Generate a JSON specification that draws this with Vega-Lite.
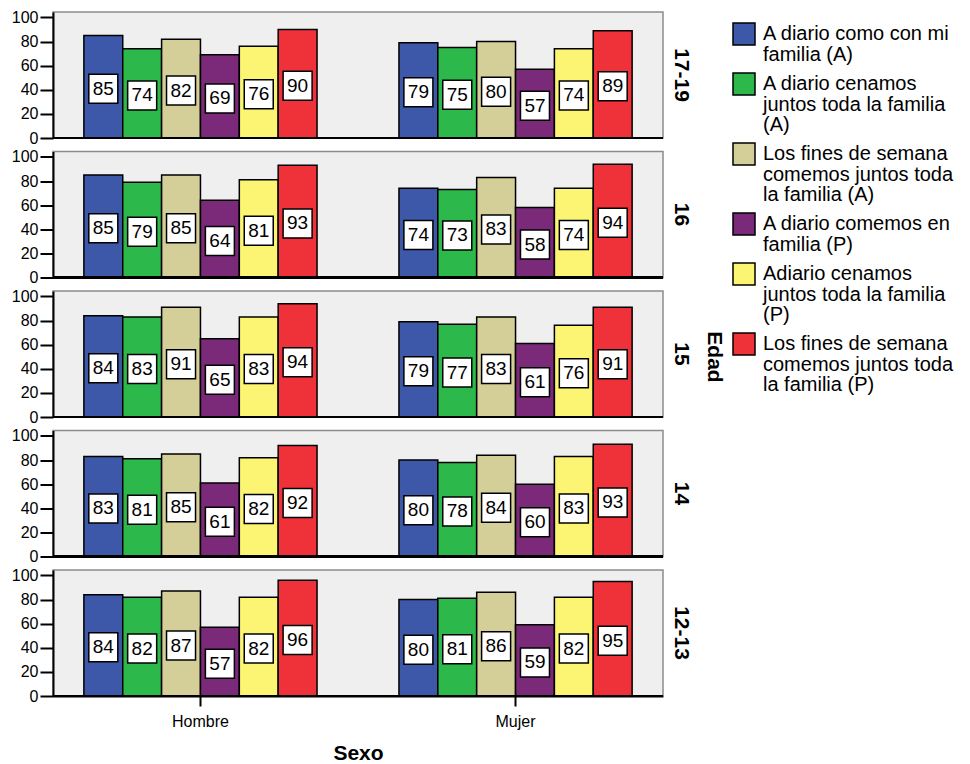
{
  "$schema": "https://vega.github.io/schema/vega-lite/v6.json",
  "padding": {"left": 10, "top": 8, "right": 5, "bottom": 0},
  "config": {
    "font": "Liberation Sans",
    "view": {"fill": "#efefef", "stroke": "#8c8c8c", "strokeWidth": 1.5},
    "axis": {"grid": false, "labelColor": "black", "titleColor": "black", "domainColor": "black", "tickColor": "black", "domainWidth": 2, "tickWidth": 2},
    "axisY": {"labelFontSize": 16, "tickSize": 13, "labelPadding": 2},
    "axisX": {"labelFontSize": 16, "tickSize": 10, "labelPadding": 7, "labelAngle": 0, "titleFontSize": 21, "titleFontWeight": "bold", "titlePadding": 13}
  },
  "data": {"values": [
    {"edad": "17-19", "sexo": "Hombre", "s": "A diario como con mi familia (A)", "v": 85},
    {"edad": "17-19", "sexo": "Hombre", "s": "A diario cenamos juntos toda la familia (A)", "v": 74},
    {"edad": "17-19", "sexo": "Hombre", "s": "Los fines de semana comemos juntos toda la familia (A)", "v": 82},
    {"edad": "17-19", "sexo": "Hombre", "s": "A diario comemos en familia (P)", "v": 69},
    {"edad": "17-19", "sexo": "Hombre", "s": "Adiario cenamos juntos toda la familia (P)", "v": 76},
    {"edad": "17-19", "sexo": "Hombre", "s": "Los fines de semana comemos juntos toda la familia (P)", "v": 90},
    {"edad": "17-19", "sexo": "Mujer", "s": "A diario como con mi familia (A)", "v": 79},
    {"edad": "17-19", "sexo": "Mujer", "s": "A diario cenamos juntos toda la familia (A)", "v": 75},
    {"edad": "17-19", "sexo": "Mujer", "s": "Los fines de semana comemos juntos toda la familia (A)", "v": 80},
    {"edad": "17-19", "sexo": "Mujer", "s": "A diario comemos en familia (P)", "v": 57},
    {"edad": "17-19", "sexo": "Mujer", "s": "Adiario cenamos juntos toda la familia (P)", "v": 74},
    {"edad": "17-19", "sexo": "Mujer", "s": "Los fines de semana comemos juntos toda la familia (P)", "v": 89},
    {"edad": "16", "sexo": "Hombre", "s": "A diario como con mi familia (A)", "v": 85},
    {"edad": "16", "sexo": "Hombre", "s": "A diario cenamos juntos toda la familia (A)", "v": 79},
    {"edad": "16", "sexo": "Hombre", "s": "Los fines de semana comemos juntos toda la familia (A)", "v": 85},
    {"edad": "16", "sexo": "Hombre", "s": "A diario comemos en familia (P)", "v": 64},
    {"edad": "16", "sexo": "Hombre", "s": "Adiario cenamos juntos toda la familia (P)", "v": 81},
    {"edad": "16", "sexo": "Hombre", "s": "Los fines de semana comemos juntos toda la familia (P)", "v": 93},
    {"edad": "16", "sexo": "Mujer", "s": "A diario como con mi familia (A)", "v": 74},
    {"edad": "16", "sexo": "Mujer", "s": "A diario cenamos juntos toda la familia (A)", "v": 73},
    {"edad": "16", "sexo": "Mujer", "s": "Los fines de semana comemos juntos toda la familia (A)", "v": 83},
    {"edad": "16", "sexo": "Mujer", "s": "A diario comemos en familia (P)", "v": 58},
    {"edad": "16", "sexo": "Mujer", "s": "Adiario cenamos juntos toda la familia (P)", "v": 74},
    {"edad": "16", "sexo": "Mujer", "s": "Los fines de semana comemos juntos toda la familia (P)", "v": 94},
    {"edad": "15", "sexo": "Hombre", "s": "A diario como con mi familia (A)", "v": 84},
    {"edad": "15", "sexo": "Hombre", "s": "A diario cenamos juntos toda la familia (A)", "v": 83},
    {"edad": "15", "sexo": "Hombre", "s": "Los fines de semana comemos juntos toda la familia (A)", "v": 91},
    {"edad": "15", "sexo": "Hombre", "s": "A diario comemos en familia (P)", "v": 65},
    {"edad": "15", "sexo": "Hombre", "s": "Adiario cenamos juntos toda la familia (P)", "v": 83},
    {"edad": "15", "sexo": "Hombre", "s": "Los fines de semana comemos juntos toda la familia (P)", "v": 94},
    {"edad": "15", "sexo": "Mujer", "s": "A diario como con mi familia (A)", "v": 79},
    {"edad": "15", "sexo": "Mujer", "s": "A diario cenamos juntos toda la familia (A)", "v": 77},
    {"edad": "15", "sexo": "Mujer", "s": "Los fines de semana comemos juntos toda la familia (A)", "v": 83},
    {"edad": "15", "sexo": "Mujer", "s": "A diario comemos en familia (P)", "v": 61},
    {"edad": "15", "sexo": "Mujer", "s": "Adiario cenamos juntos toda la familia (P)", "v": 76},
    {"edad": "15", "sexo": "Mujer", "s": "Los fines de semana comemos juntos toda la familia (P)", "v": 91},
    {"edad": "14", "sexo": "Hombre", "s": "A diario como con mi familia (A)", "v": 83},
    {"edad": "14", "sexo": "Hombre", "s": "A diario cenamos juntos toda la familia (A)", "v": 81},
    {"edad": "14", "sexo": "Hombre", "s": "Los fines de semana comemos juntos toda la familia (A)", "v": 85},
    {"edad": "14", "sexo": "Hombre", "s": "A diario comemos en familia (P)", "v": 61},
    {"edad": "14", "sexo": "Hombre", "s": "Adiario cenamos juntos toda la familia (P)", "v": 82},
    {"edad": "14", "sexo": "Hombre", "s": "Los fines de semana comemos juntos toda la familia (P)", "v": 92},
    {"edad": "14", "sexo": "Mujer", "s": "A diario como con mi familia (A)", "v": 80},
    {"edad": "14", "sexo": "Mujer", "s": "A diario cenamos juntos toda la familia (A)", "v": 78},
    {"edad": "14", "sexo": "Mujer", "s": "Los fines de semana comemos juntos toda la familia (A)", "v": 84},
    {"edad": "14", "sexo": "Mujer", "s": "A diario comemos en familia (P)", "v": 60},
    {"edad": "14", "sexo": "Mujer", "s": "Adiario cenamos juntos toda la familia (P)", "v": 83},
    {"edad": "14", "sexo": "Mujer", "s": "Los fines de semana comemos juntos toda la familia (P)", "v": 93},
    {"edad": "12-13", "sexo": "Hombre", "s": "A diario como con mi familia (A)", "v": 84},
    {"edad": "12-13", "sexo": "Hombre", "s": "A diario cenamos juntos toda la familia (A)", "v": 82},
    {"edad": "12-13", "sexo": "Hombre", "s": "Los fines de semana comemos juntos toda la familia (A)", "v": 87},
    {"edad": "12-13", "sexo": "Hombre", "s": "A diario comemos en familia (P)", "v": 57},
    {"edad": "12-13", "sexo": "Hombre", "s": "Adiario cenamos juntos toda la familia (P)", "v": 82},
    {"edad": "12-13", "sexo": "Hombre", "s": "Los fines de semana comemos juntos toda la familia (P)", "v": 96},
    {"edad": "12-13", "sexo": "Mujer", "s": "A diario como con mi familia (A)", "v": 80},
    {"edad": "12-13", "sexo": "Mujer", "s": "A diario cenamos juntos toda la familia (A)", "v": 81},
    {"edad": "12-13", "sexo": "Mujer", "s": "Los fines de semana comemos juntos toda la familia (A)", "v": 86},
    {"edad": "12-13", "sexo": "Mujer", "s": "A diario comemos en familia (P)", "v": 59},
    {"edad": "12-13", "sexo": "Mujer", "s": "Adiario cenamos juntos toda la familia (P)", "v": 82},
    {"edad": "12-13", "sexo": "Mujer", "s": "Los fines de semana comemos juntos toda la familia (P)", "v": 95}
  ]},
  "facet": {
    "row": {
      "field": "edad", "type": "nominal",
      "sort": ["17-19", "16", "15", "14", "12-13"],
      "title": "Edad",
      "header": {
        "labelOrient": "right", "labelAngle": 90, "labelFontSize": 21, "labelFontWeight": "bold", "labelColor": "black", "labelPadding": 8,
        "titleOrient": "right", "titleAngle": 90, "titleFontSize": 21, "titleFontWeight": "bold", "titleColor": "black", "titlePadding": 2
      }
    }
  },
  "spacing": {"row": 13.5},
  "bounds": "flush",
  "resolve": {"scale": {"y": "independent"}, "axis": {"y": "independent"}},
  "spec": {
    "width": 610,
    "height": 126,
    "encoding": {
      "x": {"field": "sexo", "type": "nominal", "title": "Sexo",
            "scale": {"paddingInner": 0.26, "paddingOuter": 0.098}},
      "xOffset": {"field": "s", "type": "nominal", "sort": ["A diario como con mi familia (A)", "A diario cenamos juntos toda la familia (A)", "Los fines de semana comemos juntos toda la familia (A)", "A diario comemos en familia (P)", "Adiario cenamos juntos toda la familia (P)", "Los fines de semana comemos juntos toda la familia (P)"]}
    },
    "layer": [
      {
        "encoding": {
          "y": {"field": "v", "type": "quantitative",
                "scale": {"domain": [0, 104.5], "nice": false, "zero": false},
                "axis": {"values": [0, 20, 40, 60, 80, 100], "title": null}}
        },
        "layer": [
          {
            "mark": {"type": "bar", "stroke": "black", "strokeWidth": 1.5},
            "encoding": {
              "color": {"field": "s", "type": "nominal",
                        "scale": {"domain": ["A diario como con mi familia (A)", "A diario cenamos juntos toda la familia (A)", "Los fines de semana comemos juntos toda la familia (A)", "A diario comemos en familia (P)", "Adiario cenamos juntos toda la familia (P)", "Los fines de semana comemos juntos toda la familia (P)"],
                                  "range": ["#3d58a8", "#2db84b", "#d4ce98", "#7b2a7a", "#fbf573", "#ef3239"]},
                        "legend": {
                          "title": null, "orient": "right", "offset": -3, "padding": 10,
                          "symbolType": "square", "symbolSize": 484, "symbolStrokeColor": "black", "symbolStrokeWidth": 1.5,
                          "labelFontSize": 20, "labelColor": "black", "labelLimit": 400, "labelOffset": 7, "rowPadding": 5,
                          "labelExpr": "datum.value == 'A diario como con mi familia (A)' ? ['A diario como con mi','familia (A)'] : datum.value == 'A diario cenamos juntos toda la familia (A)' ? ['A diario cenamos','juntos toda la familia','(A)'] : datum.value == 'Los fines de semana comemos juntos toda la familia (A)' ? ['Los fines de semana','comemos juntos toda','la familia (A)'] : datum.value == 'A diario comemos en familia (P)' ? ['A diario comemos en','familia (P)'] : datum.value == 'Adiario cenamos juntos toda la familia (P)' ? ['Adiario cenamos','juntos toda la familia','(P)'] : ['Los fines de semana','comemos juntos toda','la familia (P)']",
                          "encode": {"labels": {"update": {"lineHeight": {"value": 20.5}}}}
                        }}
            }
          },
          {
            "mark": {"type": "rule", "color": "black", "strokeWidth": 2},
            "encoding": {
              "x": null,
              "xOffset": null,
              "y": {"datum": 0, "type": "quantitative"}
            }
          }
        ]
      },
      {
        "layer": [
          {"mark": {"type": "point", "shape": "square", "size": 841, "filled": true, "fill": "white", "stroke": "black", "strokeWidth": 1.5, "opacity": 1}},
          {"mark": {"type": "text", "fontSize": 19, "color": "black"},
           "encoding": {"text": {"field": "v", "type": "quantitative"}}}
        ],
        "encoding": {
          "y": {"field": "v", "type": "quantitative", "scale": {"domain": [3.3, 212.3], "nice": false, "zero": false}, "axis": null}
        }
      }
    ],
    "resolve": {"scale": {"y": "independent"}}
  }
}
